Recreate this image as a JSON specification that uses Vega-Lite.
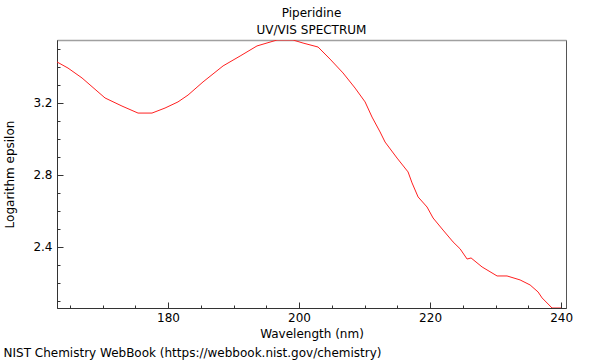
{
  "$schema": "https://vega.github.io/schema/vega-lite/v6.json",
  "width": 509,
  "height": 268,
  "autosize": {"type": "none"},
  "padding": {"left": 57, "top": 40, "right": 34, "bottom": 52},
  "background": "white",
  "title": {
    "text": "Piperidine",
    "subtitle": "UV/VIS SPECTRUM",
    "anchor": "middle",
    "frame": "group",
    "offset": 3,
    "font": "DejaVu Sans",
    "fontSize": 12,
    "fontWeight": "normal",
    "color": "#000000",
    "subtitleFont": "DejaVu Sans",
    "subtitleFontSize": 12,
    "subtitleColor": "#000000",
    "subtitlePadding": 5
  },
  "config": {
    "view": {"stroke": "#555555", "strokeWidth": 1},
    "axis": {
      "labelFont": "DejaVu Sans",
      "labelFontSize": 12,
      "labelColor": "#000000",
      "titleFont": "DejaVu Sans",
      "titleFontSize": 12,
      "titleFontWeight": "normal",
      "titleColor": "#000000",
      "domainColor": "#333333",
      "tickColor": "#333333",
      "grid": false,
      "labelOverlap": false,
      "labelFlush": false
    }
  },
  "data": {
    "values": [
      {"wl": 163.05, "v": 3.428},
      {"wl": 164.73, "v": 3.394},
      {"wl": 166.87, "v": 3.339},
      {"wl": 170.38, "v": 3.228},
      {"wl": 172.97, "v": 3.183},
      {"wl": 175.42, "v": 3.144},
      {"wl": 177.55, "v": 3.144},
      {"wl": 179.54, "v": 3.172},
      {"wl": 181.52, "v": 3.206},
      {"wl": 183.05, "v": 3.244},
      {"wl": 185.34, "v": 3.317},
      {"wl": 188.4, "v": 3.406},
      {"wl": 191.0, "v": 3.461},
      {"wl": 193.58, "v": 3.517},
      {"wl": 196.64, "v": 3.55},
      {"wl": 199.08, "v": 3.55},
      {"wl": 200.61, "v": 3.533},
      {"wl": 202.9, "v": 3.511},
      {"wl": 204.73, "v": 3.444},
      {"wl": 206.71, "v": 3.367},
      {"wl": 208.55, "v": 3.283},
      {"wl": 210.08, "v": 3.206},
      {"wl": 211.14, "v": 3.122},
      {"wl": 212.37, "v": 3.039},
      {"wl": 213.13, "v": 2.983},
      {"wl": 214.96, "v": 2.894},
      {"wl": 216.64, "v": 2.817},
      {"wl": 217.25, "v": 2.756},
      {"wl": 218.17, "v": 2.678},
      {"wl": 219.54, "v": 2.622},
      {"wl": 220.46, "v": 2.561},
      {"wl": 221.98, "v": 2.494},
      {"wl": 223.51, "v": 2.428},
      {"wl": 224.58, "v": 2.39},
      {"wl": 225.65, "v": 2.333},
      {"wl": 226.26, "v": 2.339},
      {"wl": 227.94, "v": 2.289},
      {"wl": 230.23, "v": 2.239},
      {"wl": 231.75, "v": 2.239},
      {"wl": 233.74, "v": 2.217},
      {"wl": 235.27, "v": 2.189},
      {"wl": 236.49, "v": 2.15},
      {"wl": 237.1, "v": 2.117},
      {"wl": 238.62, "v": 2.061},
      {"wl": 240.0, "v": 2.061}
    ]
  },
  "resolve": {"axis": {"x": "independent", "y": "independent"}},
  "layer": [
    {
      "mark": {"type": "rule", "opacity": 0},
      "encoding": {
        "x": {
          "field": "wl",
          "type": "quantitative",
          "scale": {"domain": [163.05, 240.75], "nice": false, "zero": false},
          "axis": {
            "orient": "bottom",
            "title": "NIST Chemistry WebBook (https://webbook.nist.gov/chemistry)",
            "titleAnchor": "start",
            "titleAlign": "left",
            "titleBaseline": "top",
            "titleX": -54,
            "titleY": 39,
            "values": [165, 170, 175, 185, 190, 195, 205, 210, 215, 225, 230, 235],
            "labels": false,
            "domain": false,
            "tickSize": -3
          }
        }
      }
    },
    {
      "mark": {"type": "rule", "opacity": 0},
      "encoding": {
        "y": {
          "field": "v",
          "type": "quantitative",
          "scale": {"domain": [2.061, 3.55], "nice": false, "zero": false},
          "axis": {
            "orient": "left",
            "title": null,
            "values": [2.1, 2.2, 2.3, 2.5, 2.6, 2.7, 2.9, 3.0, 3.1, 3.3, 3.4, 3.5],
            "labels": false,
            "domain": false,
            "tickSize": -3
          }
        }
      }
    },
    {
      "mark": {"type": "rule", "opacity": 0},
      "encoding": {
        "x": {
          "field": "wl",
          "type": "quantitative",
          "axis": {
            "orient": "top",
            "title": null,
            "labels": false,
            "ticks": false,
            "domainColor": "#a0a0a0",
            "domainWidth": 1.5
          }
        }
      }
    },
    {
      "mark": {"type": "line", "color": "#ff2020", "strokeWidth": 1, "clip": true},
      "encoding": {
        "x": {
          "field": "wl",
          "type": "quantitative",
          "axis": {
            "orient": "bottom",
            "title": "Wavelength (nm)",
            "values": [180, 200, 220, 240],
            "tickSize": -6,
            "labelPadding": 10,
            "titlePadding": 5,
            "labelOverlap": false,
            "labelBound": false
          }
        },
        "y": {
          "field": "v",
          "type": "quantitative",
          "axis": {
            "orient": "left",
            "title": "Logarithm epsilon",
            "values": [2.4, 2.8, 3.2],
            "tickSize": -6,
            "labelPadding": 11,
            "titlePadding": 16
          }
        }
      }
    }
  ]
}
